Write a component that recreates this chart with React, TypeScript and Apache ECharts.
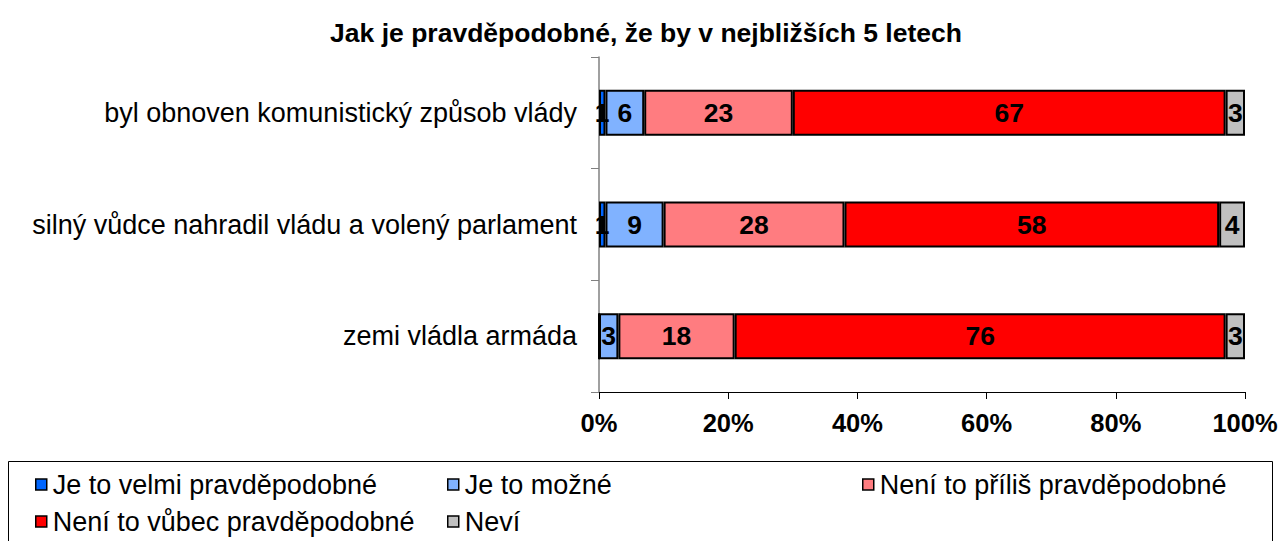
import React, { useEffect, useRef } from "react";
import * as echarts from "echarts";

const categories = [
  "byl obnoven komunistický způsob vlády",
  "silný vůdce nahradil vládu a volený parlament",
  "zemi vládla armáda",
];
const seriesNames = [
  "Je to velmi pravděpodobné",
  "Je to možné",
  "Není to příliš pravděpodobné",
  "Není to vůbec pravděpodobné",
  "Neví",
];
const veryLikely = [1, 1, 0];
const possible = [6, 9, 3];
const notVeryLikely = [23, 28, 18];
const notAtAll = [67, 58, 76];
const dontKnow = [3, 4, 3];
const xTicks = [0, 20, 40, 60, 80, 100];

const colors = ["#0066FF", "#80B2FF", "#FF7C80", "#FF0000", "#C0C0C0"];
const FONT = "Arial, 'Liberation Sans', sans-serif";
const FS = 26.5;
const FS_CAT = 27;

export default function App() {
  const ref = useRef<HTMLDivElement>(null);
  useEffect(() => {
    if (!ref.current) return;
    const chart = echarts.init(ref.current, null, { renderer: "svg" });
    const values = [veryLikely, possible, notVeryLikely, notAtAll, dontKnow];
    const legendPos = [
      { left: 35, top: 471 },
      { left: 447, top: 471 },
      { left: 862, top: 471 },
      { left: 35, top: 508 },
      { left: 447, top: 508 },
    ];
    chart.setOption({
      animation: false,
      textStyle: { fontFamily: FONT },
      title: {
        text: "Jak je pravděpodobné, že by v nejbližších 5 letech",
        left: 641,
        textAlign: "center",
        top: 14,
        textStyle: { fontFamily: FONT, fontSize: FS, fontWeight: "bold", color: "#000" },
      },
      grid: { left: 599, right: 37, top: 57, bottom: 149, containLabel: false },
      xAxis: {
        type: "value",
        min: xTicks[0],
        max: xTicks[xTicks.length - 1],
        interval: 20,
        axisLine: { show: true, lineStyle: { color: "#000", width: 1 } },
        axisTick: { show: true, length: 7, lineStyle: { color: "#000" } },
        splitLine: { show: false },
        axisLabel: {
          formatter: "{value}%",
          fontFamily: FONT,
          fontSize: 25.5,
          fontWeight: "bold",
          color: "#000",
          margin: 18,
        },
      },
      yAxis: {
        type: "category",
        data: categories,
        inverse: true,
        axisLine: { show: true, lineStyle: { color: "#808080", width: 1.5 } },
        axisTick: { show: true, length: 8, lineStyle: { color: "#808080" } },
        axisLabel: { fontFamily: FONT, fontSize: FS_CAT, color: "#000", margin: 22 },
      },
      legend: seriesNames.map((n, i) => ({
        data: [n],
        left: legendPos[i].left,
        top: legendPos[i].top,
        itemWidth: 11,
        itemHeight: 11,
        itemGap: 0,
        padding: 0,
        icon: "rect",
        textStyle: { fontFamily: FONT, fontSize: FS_CAT, color: "#000", padding: [0, 0, 0, 1] },
        itemStyle: { borderColor: "#000", borderWidth: 1.5 },
        selectedMode: false,
      })),
      graphic: [
        {
          type: "rect",
          shape: { x: 8.5, y: 461.5, width: 1264, height: 100 },
          style: { fill: "none", stroke: "#000", lineWidth: 1 },
          silent: true,
        },
      ],
      series: seriesNames.map((n, i) => ({
        name: n,
        type: "bar",
        stack: "total",
        barWidth: 46,
        data: values[i],
        itemStyle: { color: colors[i], borderColor: "#000", borderWidth: 2 },
        label: {
          show: true,
          position: "inside",
          fontFamily: FONT,
          fontSize: FS,
          fontWeight: "bold",
          color: "#000",
          formatter: (p: any) => (p.value ? String(p.value) : ""),
        },
      })),
    });
    return () => chart.dispose();
  }, []);
  return (
    <div
      ref={ref}
      style={{ position: "fixed", left: 0, top: 0, width: 1282, height: 541, background: "#fff" }}
    />
  );
}
